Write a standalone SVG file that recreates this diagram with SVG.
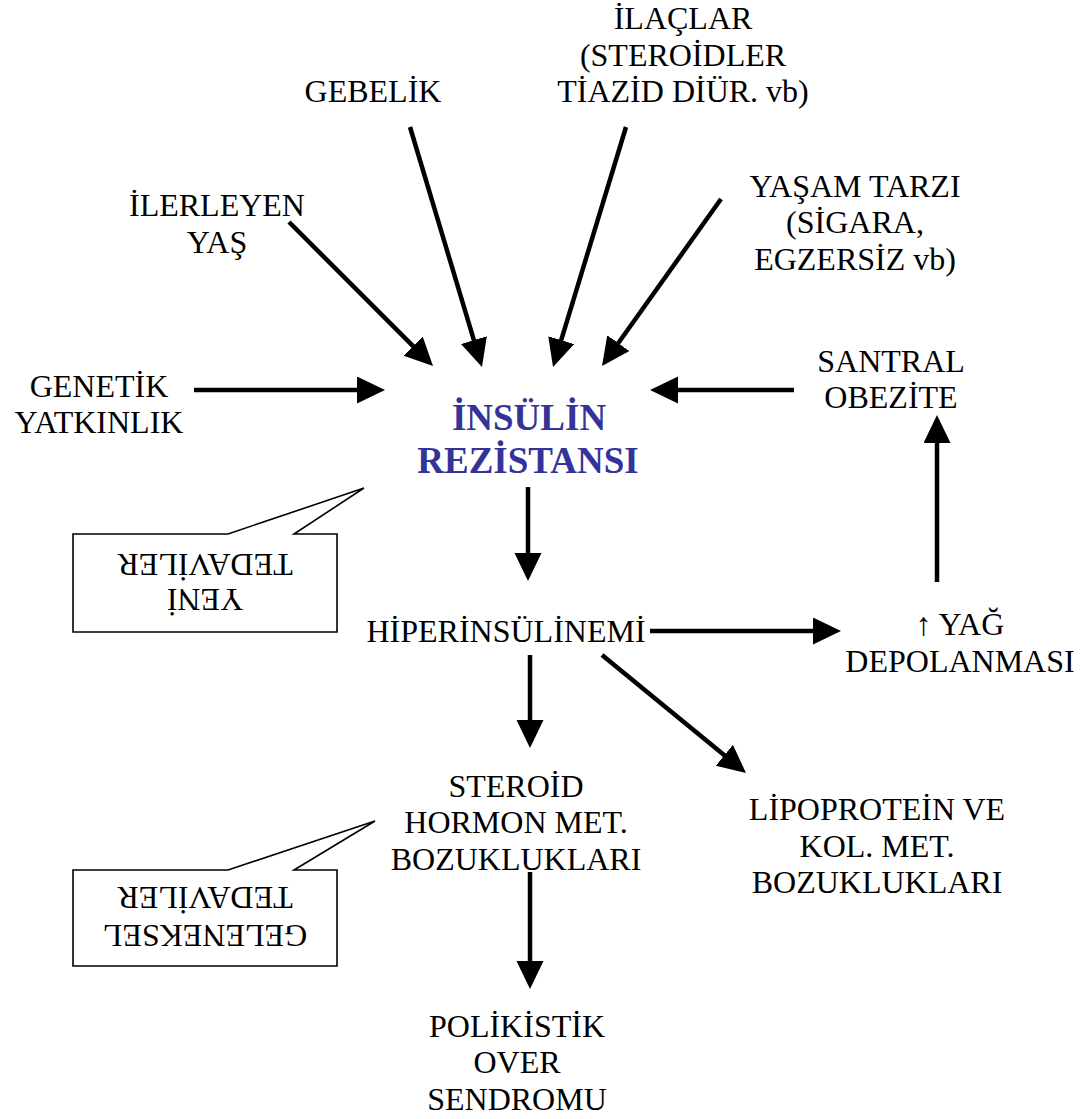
<svg xmlns="http://www.w3.org/2000/svg" width="1090" height="1119" viewBox="0 0 1090 1119" font-family="'Liberation Serif', 'DejaVu Serif', serif">
<style>
  text { font-family: 'Liberation Serif', 'DejaVu Serif', serif; font-size: 32px; fill: #000; text-anchor: middle; }
  .main { font-weight: bold; font-size: 37px; fill: #333399; }
  .conn line { stroke: #000; stroke-width: 4.5; }
  .callout path { fill: #fff; stroke: #000; stroke-width: 1.6; }
</style>
<defs>
  <marker id="ah" markerUnits="userSpaceOnUse" markerWidth="30" markerHeight="28" refX="2" refY="13.5" orient="auto">
    <path d="M0,0 L28,13.5 L0,27 Z" fill="#000"/>
  </marker>
</defs>
<rect width="1090" height="1119" fill="#fff"/>

<g class="conn" id="connectors">
  <line x1="289" y1="222" x2="414.6" y2="347.6" marker-end="url(#ah)"/>
  <line x1="410" y1="127" x2="474.5" y2="342.1" marker-end="url(#ah)"/>
  <line x1="626" y1="127" x2="560.6" y2="342.1" marker-end="url(#ah)"/>
  <line x1="721" y1="199" x2="617.1" y2="344.8" marker-end="url(#ah)"/>
  <line x1="194" y1="390" x2="359" y2="390" marker-end="url(#ah)"/>
  <line x1="794" y1="390" x2="676" y2="390" marker-end="url(#ah)"/>
  <line x1="528" y1="487" x2="528" y2="555" marker-end="url(#ah)"/>
  <line x1="650" y1="631" x2="815" y2="631" marker-end="url(#ah)"/>
  <line x1="937" y1="582" x2="937" y2="441" marker-end="url(#ah)"/>
  <line x1="530" y1="655" x2="530" y2="722" marker-end="url(#ah)"/>
  <line x1="602" y1="655" x2="725.9" y2="756.5" marker-end="url(#ah)"/>
  <line x1="530" y1="872" x2="530" y2="963" marker-end="url(#ah)"/>
</g>

<g id="ilaclar"><text x="683" y="29">İLAÇLAR</text><text x="683" y="66">(STEROİDLER</text><text x="683" y="102">TİAZİD DİÜR. vb)</text></g>
<g id="gebelik"><text x="373" y="102">GEBELİK</text></g>
<g id="ilerleyen-yas"><text x="217" y="216">İLERLEYEN</text><text x="217" y="253">YAŞ</text></g>
<g id="yasam-tarzi"><text x="855" y="197">YAŞAM TARZI</text><text x="855" y="233">(SİGARA,</text><text x="855" y="270">EGZERSİZ vb)</text></g>
<g id="genetik"><text x="99" y="397">GENETİK</text><text x="99" y="433">YATKINLIK</text></g>
<g id="santral"><text x="891" y="372">SANTRAL</text><text x="891" y="408">OBEZİTE</text></g>
<g id="insulin"><text class="main" x="529" y="430">İNSÜLİN</text><text class="main" x="528" y="473">REZİSTANSI</text></g>
<g id="hiper"><text x="506" y="642">HİPERİNSÜLİNEMİ</text></g>
<g id="yag"><text x="960" y="635">↑ YAĞ</text><text x="960" y="672">DEPOLANMASI</text></g>
<g id="steroid"><text x="516" y="797">STEROİD</text><text x="516" y="833">HORMON MET.</text><text x="516" y="870">BOZUKLUKLARI</text></g>
<g id="lipo"><text x="877" y="820">LİPOPROTEİN VE</text><text x="877" y="857">KOL. MET.</text><text x="877" y="893">BOZUKLUKLARI</text></g>
<g id="poli"><text x="517" y="1037">POLİKİSTİK</text><text x="517" y="1073">OVER</text><text x="517" y="1110">SENDROMU</text></g>

<g id="yeni-tedaviler" class="callout">
  <path d="M73,534 L228,534 L364,488 L294,534 L337,534 L337,632 L73,632 Z"/>
  <g transform="rotate(180 205 583)"><text x="205" y="577">YENİ</text><text x="205" y="612">TEDAVİLER</text></g>
</g>
<g id="geleneksel-tedaviler" class="callout">
  <path d="M73,870 L228,870 L375,821 L294,870 L337,870 L337,966 L73,966 Z"/>
  <g transform="rotate(180 205 918)"><text x="205" y="911">GELENEKSEL</text><text x="205" y="949">TEDAVİLER</text></g>
</g>
</svg>
